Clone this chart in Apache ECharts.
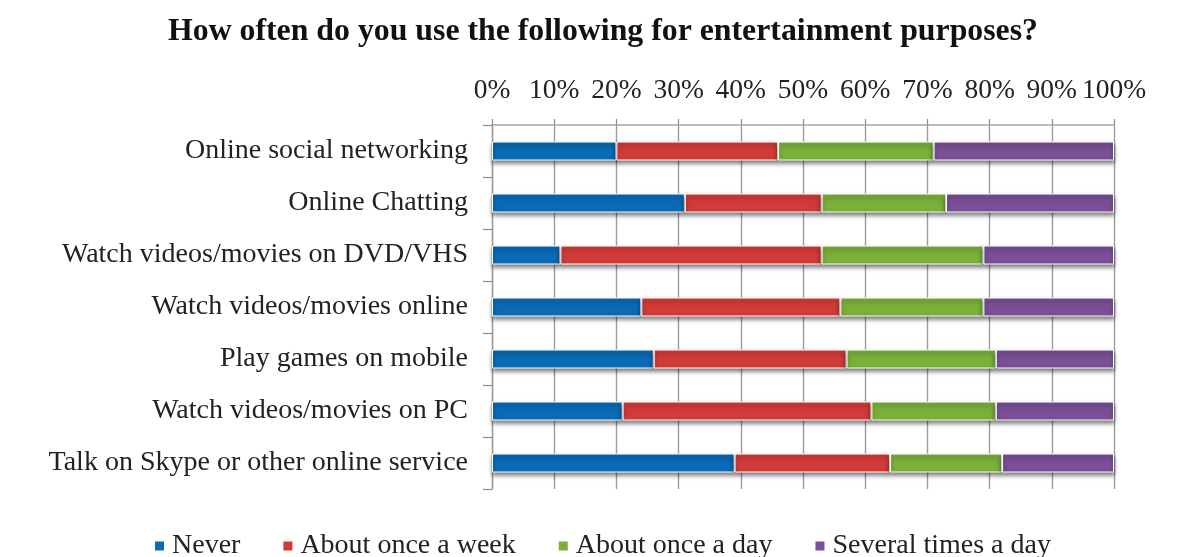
<!DOCTYPE html>
<html>
<head>
<meta charset="utf-8">
<script src="https://cdn.jsdelivr.net/npm/echarts@6/dist/echarts.min.js"></script>
<style>
  html, body { margin: 0; padding: 0; background: #ffffff; }
  #chart { width: 1180px; height: 557px; }
</style>
</head>
<body>
<div id="chart"></div>
<script>
// Survey categories, listed top to bottom
const categories = [
  'Online social networking',
  'Online Chatting',
  'Watch videos/movies on DVD/VHS',
  'Watch videos/movies online',
  'Play games on mobile',
  'Watch videos/movies on PC',
  'Talk on Skype or other online service'
];

// Share of respondents (%) for each answer, same order as categories
const never       = [20, 31, 11, 24, 26, 21, 39];
const weekly      = [26, 22, 42, 32, 31, 40, 25];
const daily       = [25, 20, 26, 23, 24, 20, 18];
const severalDay  = [29, 27, 21, 21, 19, 19, 18];

const seriesNames = ['Never', 'About once a week', 'About once a day', 'Several times a day'];
const seriesData  = [never, weekly, daily, severalDay];
const seriesColors = ['#0a6ab5', '#d03b37', '#7aaf3a', '#7a4f96'];

const FONT = '"Liberation Serif", "DejaVu Serif", serif';
const TEXT = '#222222';

const chart = echarts.init(document.getElementById('chart'), null, { renderer: 'canvas' });

chart.setOption({
  backgroundColor: '#ffffff',
  animation: false,
  title: {
    text: 'How often do you use the following for entertainment purposes?',
    left: 163,
    top: 11,
    textStyle: { fontFamily: FONT, fontWeight: 'bold', fontSize: 31.8, color: '#111' }
  },
  legend: {
    bottom: -8,
    left: 148,
    itemWidth: 11,
    itemHeight: 11,
    itemGap: 41,
    icon: 'rect',
    textStyle: { fontFamily: FONT, fontSize: 28, color: TEXT, padding: [0, 0, 0, 2] },
    data: seriesNames
  },
  grid: { left: 492, right: 66, top: 125, bottom: 68, containLabel: false },
  xAxis: {
    type: 'value',
    position: 'top',
    min: 0,
    max: 100,
    interval: 10,
    axisLine: { show: true, lineStyle: { color: '#a6a6a6', width: 1.5 } },
    axisTick: { show: true, length: 6, lineStyle: { color: '#8c8c8c', width: 1.2 } },
    axisLabel: {
      margin: 20,
      fontFamily: FONT,
      fontSize: 27.5,
      color: TEXT,
      formatter: '{value}%'
    },
    splitLine: { show: true, lineStyle: { color: '#9c9c9c', width: 1.4 } }
  },
  yAxis: {
    type: 'category',
    inverse: true,
    data: categories,
    axisLine: { show: true, lineStyle: { color: '#9c9c9c', width: 1.4 } },
    axisTick: { show: true, length: 9, lineStyle: { color: '#8c8c8c', width: 1.2 } },
    axisLabel: { margin: 24, fontFamily: FONT, fontSize: 28, color: TEXT }
  },
  series: seriesNames.map((name, i) => ({
    name,
    type: 'bar',
    stack: 'total',
    barWidth: 19,
    data: seriesData[i],
    itemStyle: {
      color: seriesColors[i],
      borderColor: '#ffffff',
      borderWidth: 1,
      shadowColor: 'rgba(0,0,0,0.5)',
      shadowBlur: 4,
      shadowOffsetY: 3
    }
  }))
});
</script>
</body>
</html>
